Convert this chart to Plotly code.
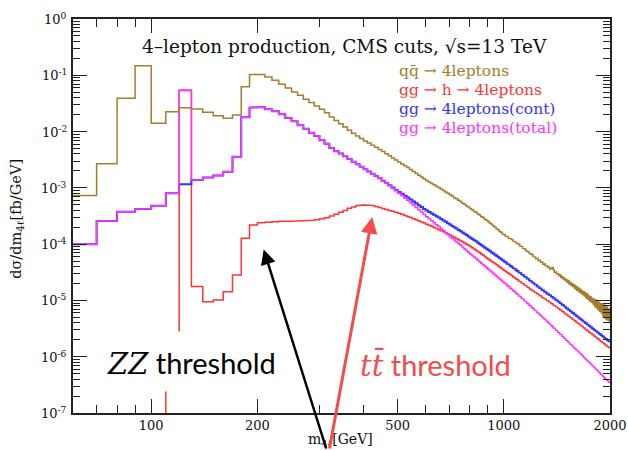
import plotly.graph_objects as go

# Binning of the m_4l distributions: 10 GeV bins from 60 to 2000 GeV
bin_lo, bin_hi, bin_width = 60, 2000, 10
edges = list(range(bin_lo, bin_hi + bin_width, bin_width))

# dsigma/dm_4l [fb/GeV] per bin
qqbar_4l = [
    7.3e-4, 2.68e-3, 3.9e-2, 0.148, 1.4e-2, 2.26e-2, 2.66e-2, 2.52e-2, 2.2e-2, 1.92e-2, 1.72e-2, 1.97e-2, 6.28e-2, 0.103,
    0.103, 9.33e-2, 8.15e-2, 6.92e-2, 5.95e-2, 5.05e-2, 4.42e-2, 3.75e-2, 3.27e-2, 2.85e-2,
    2.49e-2, 2.17e-2, 1.82e-2, 1.58e-2, 1.38e-2, 1.21e-2, 1.054e-2, 9.33e-3, 8.38e-3, 7.52e-3,
    6.81e-3, 6.24e-3, 5.73e-3, 5.25e-3, 4.81e-3, 4.42e-3, 4.05e-3, 3.71e-3, 3.4e-3, 3.12e-3,
    2.87e-3, 2.66e-3, 2.47e-3, 2.29e-3, 2.12e-3, 1.96e-3, 1.82e-3, 1.68e-3, 1.56e-3, 1.45e-3,
    1.35e-3, 1.27e-3, 1.2e-3, 1.13e-3, 1.07e-3, 1.01e-3, 9.53e-4, 8.97e-4, 8.47e-4, 8.0e-4,
    7.55e-4, 7.15e-4, 6.7e-4, 6.42e-4, 6.0e-4, 5.72e-4, 5.35e-4, 5.12e-4, 4.78e-4, 4.57e-4,
    4.28e-4, 4.1e-4, 3.82e-4, 3.69e-4, 3.43e-4, 3.31e-4, 3.08e-4, 2.96e-4, 2.77e-4, 2.66e-4,
    2.52e-4, 2.35e-4, 2.26e-4, 2.1e-4, 2.02e-4, 1.88e-4, 1.8e-4, 1.68e-4, 1.62e-4, 1.51e-4,
    1.47e-4, 1.38e-4, 1.36e-4, 1.27e-4, 1.25e-4, 1.21e-4, 1.13e-4, 1.12e-4, 1.05e-4, 1.03e-4,
    9.9e-5, 9.2e-5, 9.1e-5, 8.4e-5, 8.3e-5, 7.9e-5, 7.4e-5, 7.35e-5, 6.8e-5, 6.7e-5,
    6.5e-5, 6.0e-5, 5.95e-5, 5.5e-5, 5.6e-5, 5.1e-5, 5.15e-5, 4.75e-5, 4.8e-5, 4.4e-5,
    4.45e-5, 4.15e-5, 4.15e-5, 3.85e-5, 3.9e-5, 3.6e-5, 3.7e-5, 3.85e-5, 3.5e-5, 3.15e-5,
    3.2e-5, 2.95e-5, 3.0e-5, 2.75e-5, 2.85e-5, 2.55e-5, 2.65e-5, 2.4e-5, 2.5e-5, 2.25e-5,
    2.35e-5, 2.1e-5, 2.25e-5, 1.95e-5, 2.1e-5, 1.85e-5, 1.98e-5, 1.75e-5, 1.88e-5, 1.62e-5,
    1.78e-5, 1.52e-5, 1.68e-5, 1.42e-5, 1.6e-5, 1.35e-5, 1.5e-5, 1.28e-5, 1.42e-5, 1.2e-5,
    1.35e-5, 1.1e-5, 1.3e-5, 1.05e-5, 1.2e-5, 9.8e-6, 1.15e-5, 9.3e-6, 1.08e-5, 8.6e-6,
    1.05e-5, 7.8e-6, 1.02e-5, 7.3e-6, 9.6e-6, 6.8e-6, 9.2e-6, 6.4e-6, 8.7e-6, 6.0e-6,
    8.6e-6, 5.2e-6, 8.3e-6, 4.9e-6, 8.0e-6, 4.6e-6, 7.6e-6, 4.5e-6, 7.0e-6, 4.3e-6,
]

gg_h_4l = [
    None, None, None, None, None, None, 5.37e-2, 1.76e-5, 9.5e-6, 1.02e-5, 1.43e-5, 2.84e-5, 1.27e-4, 2.19e-4,
    2.41e-4, 2.44e-4, 2.49e-4, 2.54e-4, 2.56e-4, 2.57e-4, 2.59e-4, 2.61e-4, 2.65e-4, 2.71e-4,
    2.82e-4, 2.95e-4, 3.16e-4, 3.39e-4, 3.67e-4, 3.98e-4, 4.32e-4, 4.59e-4, 4.81e-4, 4.94e-4,
    4.98e-4, 4.94e-4, 4.84e-4, 4.68e-4, 4.47e-4, 4.29e-4, 4.12e-4, 3.98e-4, 3.83e-4, 3.69e-4,
    3.55e-4, 3.4e-4, 3.24e-4, 3.1e-4, 2.96e-4, 2.84e-4, 2.71e-4, 2.59e-4, 2.48e-4, 2.37e-4,
    2.26e-4, 2.17e-4, 2.07e-4, 1.98e-4, 1.89e-4, 1.81e-4, 1.73e-4, 1.66e-4, 1.58e-4, 1.51e-4,
    1.45e-4, 1.38e-4, 1.32e-4, 1.26e-4, 1.2e-4, 1.15e-4, 1.1e-4, 1.05e-4, 1.0e-4, 9.55e-5,
    9.1e-5, 8.63e-5, 8.2e-5, 7.78e-5, 7.4e-5, 7.01e-5, 6.67e-5, 6.32e-5, 6.01e-5, 5.7e-5,
    5.43e-5, 5.19e-5, 4.94e-5, 4.72e-5, 4.51e-5, 4.3e-5, 4.1e-5, 3.92e-5, 3.74e-5, 3.56e-5,
    3.41e-5, 3.28e-5, 3.11e-5, 3.01e-5, 2.86e-5, 2.76e-5, 2.62e-5, 2.53e-5, 2.41e-5, 2.32e-5,
    2.21e-5, 2.15e-5, 2.04e-5, 1.99e-5, 1.89e-5, 1.84e-5, 1.75e-5, 1.7e-5, 1.61e-5, 1.57e-5,
    1.5e-5, 1.47e-5, 1.4e-5, 1.37e-5, 1.31e-5, 1.28e-5, 1.22e-5, 1.2e-5, 1.14e-5, 1.115e-5,
    1.075e-5, 1.045e-5, 1.0e-5, 9.85e-6, 9.4e-6, 9.25e-6, 8.8e-6, 8.65e-6, 8.25e-6, 8.1e-6,
    7.75e-6, 7.6e-6, 7.25e-6, 7.15e-6, 6.8e-6, 6.7e-6, 6.35e-6, 6.3e-6, 5.95e-6, 5.9e-6,
    5.6e-6, 5.54e-6, 5.27e-6, 5.22e-6, 4.95e-6, 4.92e-6, 4.67e-6, 4.63e-6, 4.38e-6, 4.36e-6,
    4.14e-6, 4.1e-6, 3.9e-6, 3.86e-6, 3.67e-6, 3.64e-6, 3.46e-6, 3.43e-6, 3.25e-6, 3.23e-6,
    3.08e-6, 3.05e-6, 2.9e-6, 2.89e-6, 2.74e-6, 2.73e-6, 2.6e-6, 2.59e-6, 2.46e-6, 2.45e-6,
    2.33e-6, 2.32e-6, 2.21e-6, 2.2e-6, 2.09e-6, 2.08e-6, 1.98e-6, 1.97e-6, 1.88e-6, 1.87e-6,
    1.78e-6, 1.77e-6, 1.7e-6, 1.69e-6, 1.61e-6, 1.6e-6, 1.53e-6, 1.52e-6, 1.46e-6, 1.42e-6,
]
# lower end of the first drawn edge of the Higgs peak bin, and the stub at 110 GeV
higgs_onset = 2.8e-6
higgs_stub_x = [110, 110]
higgs_stub_y = [1e-7, 2.4e-7]

gg_4l_cont = [
    1.0e-4, 2.58e-4, 3.78e-4, 4.2e-4, 4.79e-4, 8.0e-4, 1.16e-3, 1.38e-3, 1.52e-3, 1.65e-3, 1.94e-3, 3.58e-3, 1.79e-2, 2.66e-2,
    2.74e-2, 2.49e-2, 2.29e-2, 2.03e-2, 1.74e-2, 1.52e-2, 1.29e-2, 1.127e-2, 9.55e-3, 8.35e-3,
    7.0e-3, 6.1e-3, 5.1e-3, 4.47e-3, 4.08e-3, 3.63e-3, 3.24e-3, 2.92e-3, 2.63e-3, 2.37e-3,
    2.15e-3, 1.95e-3, 1.78e-3, 1.62e-3, 1.48e-3, 1.34e-3, 1.22e-3, 1.11e-3, 1.01e-3, 9.2e-4,
    8.47e-4, 7.83e-4, 7.24e-4, 6.71e-4, 6.21e-4, 5.74e-4, 5.31e-4, 4.91e-4, 4.55e-4, 4.21e-4,
    3.94e-4, 3.72e-4, 3.51e-4, 3.32e-4, 3.13e-4, 2.96e-4, 2.79e-4, 2.64e-4, 2.49e-4, 2.36e-4,
    2.23e-4, 2.11e-4, 2.0e-4, 1.9e-4, 1.79e-4, 1.7e-4, 1.61e-4, 1.53e-4, 1.45e-4, 1.37e-4,
    1.3e-4, 1.24e-4, 1.17e-4, 1.12e-4, 1.06e-4, 1.01e-4, 9.6e-5, 9.12e-5, 8.67e-5, 8.24e-5,
    7.85e-5, 7.48e-5, 7.14e-5, 6.81e-5, 6.5e-5, 6.19e-5, 5.92e-5, 5.64e-5, 5.38e-5, 5.13e-5,
    4.9e-5, 4.72e-5, 4.46e-5, 4.33e-5, 4.1e-5, 3.96e-5, 3.75e-5, 3.64e-5, 3.44e-5, 3.33e-5,
    3.15e-5, 3.07e-5, 2.9e-5, 2.82e-5, 2.67e-5, 2.6e-5, 2.45e-5, 2.39e-5, 2.26e-5, 2.2e-5,
    2.09e-5, 2.04e-5, 1.93e-5, 1.89e-5, 1.78e-5, 1.75e-5, 1.65e-5, 1.63e-5, 1.53e-5, 1.51e-5,
    1.43e-5, 1.41e-5, 1.33e-5, 1.32e-5, 1.25e-5, 1.23e-5, 1.17e-5, 1.15e-5, 1.09e-5, 1.08e-5,
    1.02e-5, 1.01e-5, 9.55e-6, 9.45e-6, 8.95e-6, 8.8e-6, 8.35e-6, 8.25e-6, 7.8e-6, 7.7e-6,
    7.3e-6, 7.2e-6, 6.85e-6, 6.75e-6, 6.42e-6, 6.35e-6, 6.03e-6, 5.98e-6, 5.66e-6, 5.6e-6,
    5.33e-6, 5.28e-6, 5.02e-6, 4.98e-6, 4.72e-6, 4.68e-6, 4.45e-6, 4.42e-6, 4.19e-6, 4.16e-6,
    3.96e-6, 3.93e-6, 3.74e-6, 3.71e-6, 3.53e-6, 3.51e-6, 3.34e-6, 3.32e-6, 3.15e-6, 3.14e-6,
    2.99e-6, 2.97e-6, 2.84e-6, 2.82e-6, 2.69e-6, 2.68e-6, 2.55e-6, 2.54e-6, 2.42e-6, 2.41e-6,
    2.3e-6, 2.29e-6, 2.19e-6, 2.17e-6, 2.08e-6, 2.06e-6, 1.98e-6, 1.96e-6, 1.88e-6, 1.84e-6,
]

gg_4l_total = [
    1.0e-4, 2.58e-4, 3.78e-4, 4.2e-4, 4.79e-4, 8.0e-4, 5.48e-2, 1.38e-3, 1.52e-3, 1.65e-3, 1.94e-3, 3.58e-3, 1.79e-2, 2.66e-2,
    2.74e-2, 2.49e-2, 2.29e-2, 2.03e-2, 1.74e-2, 1.52e-2, 1.29e-2, 1.127e-2, 9.55e-3, 8.35e-3,
    7.0e-3, 6.1e-3, 5.1e-3, 4.47e-3, 4.08e-3, 3.63e-3, 3.24e-3, 2.92e-3, 2.63e-3, 2.37e-3,
    2.15e-3, 1.95e-3, 1.78e-3, 1.62e-3, 1.48e-3, 1.34e-3, 1.21e-3, 1.09e-3, 9.8e-4, 8.9e-4,
    8.02e-4, 7.28e-4, 6.61e-4, 6.0e-4, 5.45e-4, 4.95e-4, 4.5e-4, 4.08e-4, 3.71e-4, 3.37e-4,
    3.08e-4, 2.84e-4, 2.61e-4, 2.41e-4, 2.22e-4, 2.05e-4, 1.88e-4, 1.74e-4, 1.6e-4, 1.48e-4,
    1.36e-4, 1.27e-4, 1.18e-4, 1.1e-4, 1.03e-4, 9.55e-5, 8.89e-5, 8.28e-5, 7.71e-5, 7.18e-5,
    6.71e-5, 6.31e-5, 5.92e-5, 5.55e-5, 5.21e-5, 4.89e-5, 4.59e-5, 4.31e-5, 4.04e-5, 3.79e-5,
    3.57e-5, 3.37e-5, 3.19e-5, 3.01e-5, 2.85e-5, 2.69e-5, 2.55e-5, 2.4e-5, 2.28e-5, 2.15e-5,
    2.04e-5, 1.95e-5, 1.82e-5, 1.76e-5, 1.64e-5, 1.58e-5, 1.48e-5, 1.43e-5, 1.34e-5, 1.29e-5,
    1.2e-5, 1.17e-5, 1.09e-5, 1.06e-5, 9.85e-6, 9.55e-6, 8.95e-6, 8.65e-6, 8.1e-6, 7.85e-6,
    7.35e-6, 7.12e-6, 6.7e-6, 6.5e-6, 6.1e-6, 5.93e-6, 5.57e-6, 5.4e-6, 5.08e-6, 4.93e-6,
    4.64e-6, 4.5e-6, 4.25e-6, 4.12e-6, 3.88e-6, 3.77e-6, 3.56e-6, 3.45e-6, 3.25e-6, 3.16e-6,
    2.98e-6, 2.9e-6, 2.74e-6, 2.67e-6, 2.52e-6, 2.46e-6, 2.32e-6, 2.26e-6, 2.13e-6, 2.08e-6,
    1.96e-6, 1.92e-6, 1.81e-6, 1.77e-6, 1.67e-6, 1.64e-6, 1.55e-6, 1.52e-6, 1.43e-6, 1.4e-6,
    1.33e-6, 1.3e-6, 1.23e-6, 1.21e-6, 1.14e-6, 1.12e-6, 1.06e-6, 1.04e-6, 9.85e-7, 9.6e-7,
    9.15e-7, 8.95e-7, 8.52e-7, 8.34e-7, 7.95e-7, 7.77e-7, 7.4e-7, 7.22e-7, 6.9e-7, 6.74e-7,
    6.44e-7, 6.3e-7, 6.0e-7, 5.89e-7, 5.62e-7, 5.5e-7, 5.24e-7, 5.14e-7, 4.9e-7, 4.8e-7,
    4.58e-7, 4.5e-7, 4.3e-7, 4.22e-7, 4.03e-7, 3.96e-7, 3.78e-7, 3.71e-7, 3.55e-7, 3.46e-7,
]

series_labels = [
    "qq\u0304 \u2192 4leptons",
    "gg \u2192 h \u2192 4leptons",
    "gg \u2192 4leptons(cont)",
    "gg \u2192 4leptons(total)",
]
series_colors = ["#a47e2c", "#ff3535", "#3535ff", "#ff35ff"]

x_major = [100, 200, 500, 1000, 2000]
x_minor = [70, 80, 90, 300, 400, 600, 700, 800, 900]
y_decades = list(range(-7, 1))


def step_path(values, start=None):
    """Outline of a histogram: horizontal bin tops joined by vertical edges."""
    xs, ys = [], []
    for i, v in enumerate(values):
        if v is None:
            if xs and xs[-1] is not None:
                xs.append(None)
                ys.append(None)
            continue
        if start is not None and not xs:
            xs.append(edges[i])
            ys.append(start)
        xs += [edges[i], edges[i + 1]]
        ys += [v, v]
    return xs, ys


fig = go.Figure()

hx, hy = step_path(gg_h_4l, start=higgs_onset)
fig.add_trace(go.Scatter(x=hx, y=hy, mode="lines", line=dict(color=series_colors[1], width=1.5)))
fig.add_trace(go.Scatter(x=higgs_stub_x, y=higgs_stub_y, mode="lines",
                         line=dict(color=series_colors[1], width=1.5)))

cx, cy = step_path(gg_4l_cont)
fig.add_trace(go.Scatter(x=cx, y=cy, mode="lines", line=dict(color=series_colors[2], width=2)))

tx, ty = step_path(gg_4l_total)
fig.add_trace(go.Scatter(x=tx, y=ty, mode="lines", line=dict(color=series_colors[3], width=1.5)))

qx, qy = step_path(qqbar_4l)
fig.add_trace(go.Scatter(x=qx, y=qy, mode="lines", line=dict(color=series_colors[0], width=1.5)))

axis_font = dict(family="DejaVu Serif", size=13, color="#111")
frame = dict(showline=True, linecolor="#222", linewidth=1.6, mirror="allticks",
             ticks="inside", tickcolor="#222", tickwidth=1.3, ticklen=14,
             showgrid=False, zeroline=False, tickfont=axis_font, automargin=False)

fig.update_xaxes(type="log", range=[1.77815, 3.30103], ticklabeloverflow="allow",
                 tickmode="array", tickvals=x_major, ticktext=[str(v) for v in x_major],
                 minor=dict(tickmode="array", tickvals=x_minor, ticks="inside", ticklen=8,
                            tickcolor="#222", tickwidth=1.1, showgrid=False),
                 **frame)
fig.update_yaxes(type="log", range=[-7, 0], showticklabels=False,
                 tickmode="array", tickvals=[10.0 ** d for d in y_decades],
                 minor=dict(tickmode="array",
                            tickvals=[k * 10.0 ** d for d in y_decades[:-1] for k in range(2, 10)],
                            ticks="inside", ticklen=7, tickcolor="#222", tickwidth=1.1,
                            showgrid=False),
                 **frame)


def note(text, x, y, size, color="#111", family="DejaVu Serif", **kw):
    return dict(text=text, x=x, y=y, xref="paper", yref="paper", showarrow=False,
                xanchor=kw.pop("xanchor", "center"), yanchor="middle",
                font=dict(family=family, size=size, color=color), **kw)


annotations = [
    note("4\u2013lepton production, CMS cuts, \u221as=13 TeV", 0.5065, 0.9297, 18.5),
    note("d\u03c3/dm<sub>4\u2113</sub>[fb/GeV]", -0.1034, 0.494, 14.5, textangle=-90),
    note("m<sub>4\u2113</sub>[GeV]", 0.499, -0.0685, 14),
    note("<span style=\"font-family:'DejaVu Serif'\"><i>ZZ</i></span> threshold",
         0.2216, 0.1269, 29, color="#000", family="Lato"),
    note("<span style=\"font-family:'DejaVu Serif'\"><i>tt\u0304</i></span> threshold",
         0.675, 0.1218, 29, color="#f24c4c", family="Lato"),
    dict(text="", x=2.3189, y=-4.095, xref="x", yref="y", ax=63, ay=203,
         showarrow=True, arrowhead=2, arrowsize=1.2, arrowwidth=2.5, arrowcolor="#000"),
    dict(text="", x=2.6266, y=-3.5175, xref="x", yref="y", ax=-43, ay=235,
         showarrow=True, arrowhead=2, arrowsize=1.1, arrowwidth=3, arrowcolor="#f24c4c"),
]
# decade labels of the cross-section axis
for d in y_decades:
    annotations.append(dict(text="10<sup>%d</sup>" % d, x=0, y=d, xref="paper", yref="y",
                            xanchor="right", yanchor="middle", xshift=-4, showarrow=False,
                            font=axis_font))
legend_y = [0.8688, 0.8198, 0.7708, 0.7226]
for label, color, yy in zip(series_labels, series_colors, legend_y):
    annotations.append(note(label, 0.6028, yy, 15.5, color=color, xanchor="left"))

fig.update_layout(
    width=628, height=450,
    margin=dict(l=73, r=18, t=19, b=37, autoexpand=False),
    paper_bgcolor="white", plot_bgcolor="white",
    showlegend=False,
    annotations=annotations,
)

fig.write_html("out.html")
